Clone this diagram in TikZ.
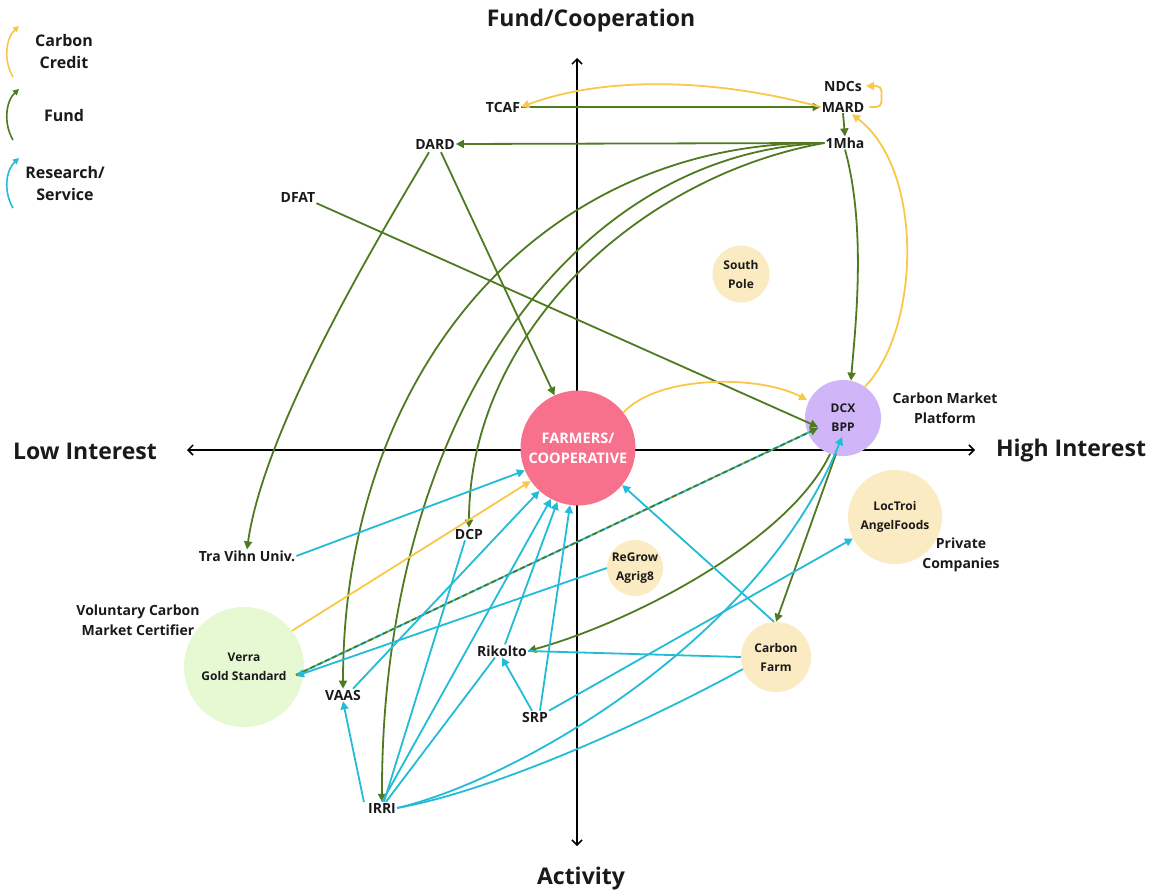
\documentclass[tikz,border=0pt]{standalone}
\usepackage{fontspec}
\setmainfont{Open Sans}
\usetikzlibrary{arrows.meta,calc}
\definecolor{cyel}{HTML}{F9C846}
\definecolor{cgrn}{HTML}{4F7A20}
\definecolor{ccyn}{HTML}{22BCD6}
\definecolor{cpink}{HTML}{F7718C}
\definecolor{cpurp}{HTML}{D0B5F8}
\definecolor{ccream}{HTML}{FBEBC2}
\definecolor{clgrn}{HTML}{E6F9D2}
\definecolor{ink}{HTML}{1A1A1A}
\tikzset{
 lbl/.style={font=\bfseries\fontsize{14}{20}\selectfont, text=ink, inner sep=1pt, align=center},
 sml/.style={font=\bfseries\fontsize{12}{19}\selectfont, text=ink, align=center, inner sep=0pt},
 big/.style={font=\bfseries\fontsize{23}{26}\selectfont, text=ink, inner sep=0pt},
 leg/.style={font=\bfseries\fontsize{16}{22}\selectfont, text=ink, align=center, inner sep=0pt},
 blob/.style={circle, inner sep=0pt},
 conn/.style={line width=1.8pt, -{Triangle[length=8pt,width=8pt]}},
 credit/.style={conn, draw=cyel},
 fund/.style={conn, draw=cgrn},
 res/.style={conn, draw=ccyn},
 legarc/.style={line width=1.6pt, -{Triangle[length=6pt,width=6pt]}},
 axis/.style={line width=1.5pt, draw=black, {Straight Barb[length=5pt,width=10pt]}-{Straight Barb[length=5pt,width=10pt]}}
}
\begin{document}
\begin{tikzpicture}[x=1pt,y=-1pt]
\path[use as bounding box, fill=white] (0,0) rectangle (1156,894);

% axes
\coordinate (axL) at (187,450);
\coordinate (axR) at (975,450);
\coordinate (axT) at (577,58);
\coordinate (axB) at (577,846);
\draw[axis] (axL) -- (axR);
\draw[axis] (axT) -- (axB);
\node[big] (fundlbl) at (591,21) {Fund/Cooperation};
\node[big] (actlbl) at (581,879) {Activity};
\node[big] (lowlbl) at (85,451) {Low Interest};
\node[big] (highlbl) at (1071,451) {High Interest};

% legend
\node[leg] (lgc) at (64,51) {Carbon\\Credit};
\node[leg] (lgf) at (64,115) {Fund};
\node[leg] (lgr) at (65,183) {Research/\\Service};
\draw[legarc, draw=cyel] (13,77) .. controls (3,60) and (6,38) .. (19,26);
\draw[legarc, draw=cgrn] (13,140) .. controls (3,123) and (6,101) .. (19,89);
\draw[legarc, draw=ccyn] (13,208) .. controls (3,191) and (6,170) .. (19,158);

% circles
\node[blob, fill=cpink, minimum size=115pt, font=\bfseries\fontsize{14.5}{20}\selectfont, text=white, align=center] (farm) at (578,448) {FARMERS/\\COOPERATIVE};
\node[blob, fill=cpurp, minimum size=76pt, sml] (dcx) at (843,418) {DCX\\BPP};
\node[blob, fill=ccream, minimum size=57pt, sml] (sp) at (741,274) {South\\Pole};
\node[blob, fill=ccream, minimum size=94pt, sml] (lt) at (895,517) {LocTroi\\AngelFoods};
\node[blob, fill=ccream, minimum size=56pt, sml] (rg) at (635,568) {ReGrow\\Agrig8};
\node[blob, fill=ccream, minimum size=70pt, sml] (cf) at (776,657) {Carbon\\Farm};
\node[blob, fill=clgrn, minimum size=120pt, sml] (verra) at (244,667) {Verra\\Gold Standard};

% text nodes
\node[lbl] (tcaf) at (503,107) {TCAF};
\node[lbl] (ndcs) at (843,86) {NDCs};
\node[lbl] (mard) at (843,107) {MARD};
\node[lbl] (mha) at (845,143) {1Mha};
\node[lbl] (dard) at (435,144) {DARD};
\node[lbl] (dfat) at (298,197) {DFAT};
\node[lbl] (tvu) at (247,556) {Tra Vihn Univ.};
\node[lbl] (dcp) at (469,534) {DCP};
\node[lbl] (rik) at (502,651) {Rikolto};
\node[lbl] (vaas) at (343,695) {VAAS};
\node[lbl] (srp) at (535,717) {SRP};
\node[lbl] (irri) at (382,808) {IRRI};

% group labels
\node[lbl] (cmp) at (945,408) {Carbon Market\\Platform};
\node[lbl] (vcm) at (138,620) {Voluntary Carbon\\Market Certifier};
\node[lbl] (pc) at (961,555) {Private\\Companies};

% ---- fund (green)
\draw[fund] (tcaf.east) -- (mard.west);
\draw[fund] (mard.south) -- (mha.north);
\draw[fund] (mha.west) -- (dard.east);
\draw[fund] (mha.west) .. controls +(-285,-3) and +(0,-316) .. (vaas.north);
\draw[fund] (mha.west) .. controls +(-255,10) and +(-1,-379) .. (irri.north);
\draw[fund] (mha.west) .. controls +(-185,33) and +(0,-195) .. (dcp.north);
\draw[fund] (mha.south) .. controls +(22,80) and +(4,-50) .. (dcx.78);
\draw[fund] ($(dard.south)+(-6,2)$) .. controls +(-38,65) and +(18,-128) .. (tvu.north);
\draw[fund] ($(dard.south)+(6,2)$) -- (farm.114);
\draw[fund] (dfat.south east) -- ($(dcx.center)+(-25,9)$);
\draw[fund] ($(dcx.center)+(-7,36)$) -- (cf.north);
\draw[fund] ($(dcx.center)+(-13,36)$) .. controls +(-40,85) and +(108,-30) .. (rik.east);
% Verra - DCX (mixed)
\draw[line width=1.8pt, draw=ccyn] ($(verra.center)+(52,8)$) -- ($(dcx.center)+(-25,10)$);
\draw[fund, dash pattern=on 5pt off 3pt] ($(verra.center)+(52,8)$) -- ($(dcx.center)+(-25,10)$);

% ---- carbon credit (yellow)
\draw[credit] (mard.west) .. controls +(-110,-30) and +(80,-30) .. (tcaf.east);
\draw[credit, rounded corners=5pt] ($(mard.east)+(4,0)$) -- ++(12,0) |- ($(ndcs.east)+(3,0)$);
\draw[credit] (dcx.55) .. controls (920,330) and (925,170) .. ($(mard.south)+(9,1)$);
\draw[credit] (farm.38) .. controls +(35,-38) and +(-47,-25) .. ($(dcx.center)+(-36,-18)$);
\draw[credit] (verra.37) -- (farm.215);

% ---- research / service (cyan)
\draw[res] (tvu.east) -- (farm.203);
\draw[res] ($(vaas.north)+(10,0)$) -- (farm.228);
\draw[res] ($(irri.west)+(-3,-6)$) -- (vaas.south);
\draw[res, -] ($(irri.north)+(2,0)$) -- ($(dcp.south)+(-4,0)$);
\draw[res] (irri.north) -- (farm.242);
\draw[res, -] ($(irri.north)+(4,0)$) -- ($(rik.south)+(-7,0)$);
\draw[res] ($(rik.north)+(3,0)$) -- (farm.249);
\draw[res] ($(srp.north)+(5,0)$) -- (farm.262);
\draw[res] ($(srp.north)+(-3,0)$) -- (rik.south);
\draw[res] (srp.north east) -- (lt.207);
\draw[res] ($(cf.north)+(-2,0)$) -- (farm.-40);
\draw[res, -] (cf.west) -- (rik.east);
\draw[res, -] (irri.east) .. controls +(100,-18) and +(-93,51) .. (cf.200);
\draw[res] (irri.east) .. controls +(120,-28) and +(-82,203) .. ($(dcx.center)+(-1,19)$);
\draw[res] (rg.west) -- ($(verra.center)+(52,9)$);
\end{tikzpicture}
\end{document}
